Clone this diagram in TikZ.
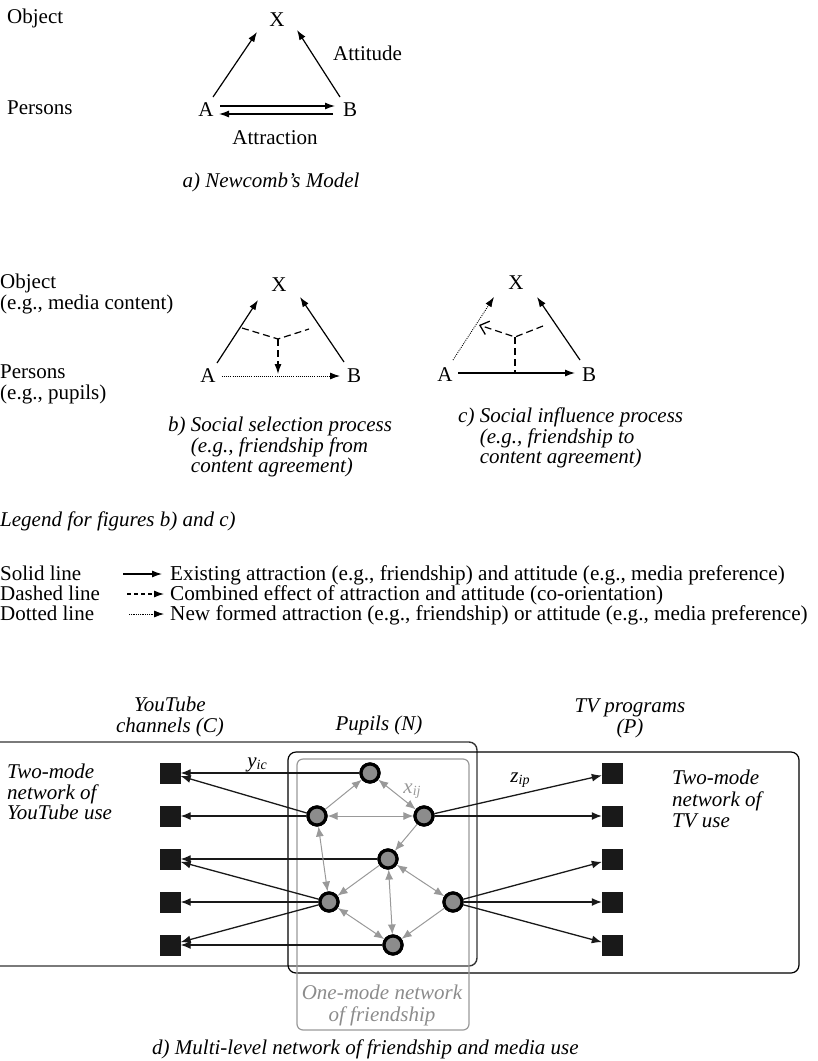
\documentclass[tikz,border=0pt]{standalone}
\usepackage{fontspec}
\setmainfont{Liberation Serif}
\usetikzlibrary{arrows.meta}
\begin{document}
\begin{tikzpicture}[x=1pt,y=-1pt,
  txt/.style={inner sep=0pt, font=\fontsize{21}{21}\selectfont},
  legtxt/.style={inner sep=0pt, font=\fontsize{21.2}{21}\selectfont, text height=13.5pt, text depth=4pt},
  itx/.style={inner sep=0pt, font=\fontsize{21}{20.5}\selectfont\itshape},
  arr/.style={line width=1.2pt,-{Latex[length=10pt,width=7pt]}},
  dsh/.style={line width=1.2pt,dash pattern=on 7pt off 4pt},
  dotl/.style={line width=0.9pt,dash pattern=on 0.9pt off 1.2pt},
  pupil/.style={circle,draw=black,line width=3.2pt,fill=black!45,minimum size=18pt,inner sep=0pt},
  medium/.style={rectangle,fill=black!90,minimum size=21pt,inner sep=0pt},
  garr/.style={draw=black!40,line width=1pt,-{Latex[length=10pt,width=8pt]}},
  gbiarr/.style={draw=black!40,line width=1pt,{Latex[length=10pt,width=8pt]}-{Latex[length=10pt,width=8pt]}},
  barr/.style={draw=black!90,line width=1.3pt,-{Latex[length=10pt,width=8pt]}},
]
\useasboundingbox (0,0) rectangle (818,1061);

% ---------------- a) Newcomb's model
\node[txt,anchor=base west] (objA) at (7,23) {Object};
\node[txt,anchor=base west] (perA) at (7,114) {Persons};
\node[txt] (Xa) at (277,20) {X};
\node[txt] (Aa) at (206,110) {A};
\node[txt] (Ba) at (350,110) {B};
\node[txt,anchor=base west] (att) at (333,60) {Attitude};
\node[txt] (attr) at (275,138) {Attraction};
\node[itx] (capa) at (271,182) {a) Newcomb’s Model};
\draw[arr] ([shift={(7,-13)}]Aa.center) -- ([shift={(-20,12)}]Xa.center);
\draw[arr] ([shift={(-10,-13)}]Ba.center) -- ([shift={(20,10)}]Xa.center);
\draw[arr] ([shift={(14,-4)}]Aa.center) -- ([shift={(-15,-4)}]Ba.center);
\draw[arr] ([shift={(-17,4)}]Ba.center) -- ([shift={(13,4)}]Aa.center);

% ---------------- b) social selection
\node[txt,anchor=north west,align=left] (objB) at (0,274) {Object\\(e.g., media content)};
\node[txt,anchor=north west,align=left] (perB) at (0,365) {Persons\\(e.g., pupils)};
\node[txt] (Xb) at (279,285) {X};
\node[txt] (Ab) at (208,376) {A};
\node[txt] (Bb) at (354,376) {B};
\draw[arr] ([shift={(9,-13)}]Ab.center) -- ([shift={(-21,15)}]Xb.center);
\draw[arr] ([shift={(-10,-14)}]Bb.center) -- ([shift={(21,12)}]Xb.center);
\draw[dotl,-{Latex[length=10pt,width=7pt]}] ([shift={(14,0)}]Ab.center) -- ([shift={(-14,0)}]Bb.center);
\coordinate (bL) at (242,328);
\coordinate (bJ) at (278,339);
\coordinate (bR) at (309,329);
\coordinate (bT) at (278,374);
\draw[dsh] (bL) -- (bJ) -- (bR);
\draw[dsh,-{Latex[length=10pt,width=7pt]}] (bJ) -- (bT);
\node[itx,anchor=north west,align=left] (capb) at (168,417)
  {b) Social selection process\\\hphantom{b) }(e.g., friendship from\\\hphantom{b) }content agreement)};

% ---------------- c) social influence
\node[txt] (Xc) at (516,283) {X};
\node[txt] (Ac) at (445,375) {A};
\node[txt] (Bc) at (589,375) {B};
\draw[dotl,-{Latex[length=10pt,width=7pt]}] ([shift={(8,-15)}]Ac.center) -- ([shift={(-22,14)}]Xc.center);
\draw[arr] ([shift={(-9,-15)}]Bc.center) -- ([shift={(21,14)}]Xc.center);
\draw[arr] ([shift={(13,-2)}]Ac.center) -- ([shift={(-14,-2)}]Bc.center);
\coordinate (cR) at (543,326);
\coordinate (cJ) at (515,337);
\coordinate (cL) at (479,325);
\coordinate (cB) at (515,372);
\draw[dsh,-{Straight Barb[length=8pt,width=14pt,line width=1.3pt]}] (cR) -- (cJ) -- (cL);
\draw[dsh] (cJ) -- (cB);
\node[itx,anchor=north west,align=left] (capc) at (458,408)
  {c) Social influence process\\\hphantom{c) }(e.g., friendship to\\\hphantom{c) }content agreement)};

% ---------------- legend
\node[itx,anchor=base west] (leg) at (0,526) {Legend for figures b) and c)};
\node[legtxt,font=\fontsize{21}{21}\selectfont,anchor=base west] (l1) at (0,580) {Solid line};
\node[legtxt,font=\fontsize{21}{21}\selectfont,anchor=base west] (l2) at (0,600) {Dashed line};
\node[legtxt,font=\fontsize{21}{21}\selectfont,anchor=base west] (l3) at (0,620) {Dotted line};
\coordinate (s1a) at (123,574); \coordinate (s1b) at (162,574);
\coordinate (s2a) at (127,594); \coordinate (s2b) at (164,594);
\coordinate (s3a) at (129,614); \coordinate (s3b) at (164,614);
\draw[line width=1.1pt,-{Latex[length=10pt,width=7pt]}] (s1a) -- (s1b);
\draw[line width=1.1pt,dash pattern=on 4pt off 3pt,-{Latex[length=10pt,width=7pt]}] (s2a) -- (s2b);
\draw[line width=0.8pt,dash pattern=on 0.8pt off 1pt,-{Latex[length=10pt,width=7pt]}] (s3a) -- (s3b);
\node[legtxt,anchor=base west] (t1) at (170,580) {Existing attraction (e.g., friendship) and attitude (e.g., media preference)};
\node[legtxt,anchor=base west] (t2) at (170,600) {Combined effect of attraction and attitude (co-orientation)};
\node[legtxt,anchor=base west] (t3) at (170,620) {New formed attraction (e.g., friendship) or attitude (e.g., media preference)};

% ---------------- d) multi-level network
\draw[black!80,line width=1.4pt,rounded corners=8pt] (-30,742) rectangle (477,966);
\draw[black,line width=1.2pt,rounded corners=8pt] (288,752) rectangle (799,973);
\draw[black!40,line width=1.2pt,rounded corners=6pt] (297,759) rectangle (469,1030);

\node[itx,align=center,anchor=north] (ytl) at (170,697) {YouTube\\channels (C)};
\node[itx] (pup) at (379,725) {Pupils (N)};
\node[itx,align=center,anchor=north] (tvl) at (630,699) {TV programs\\(P)};
\node[itx,align=left,anchor=north west] (ytu) at (7,764) {Two-mode\\network of\\YouTube use};
\node[itx,align=left,anchor=north west,font=\fontsize{21}{21.5}\selectfont\itshape] (tvu) at (672,770) {Two-mode\\network of\\TV use};
\node[itx,align=center,text=black!45,anchor=north,font=\fontsize{21}{22}\selectfont\itshape] (onem) at (382,985) {One-mode network\\of friendship};
\node[itx,anchor=base west] (capd) at (152,1054) {d) Multi-level network of friendship and media use};

% media squares
\foreach \i/\yy in {1/773,2/816,3/859,4/902,5/945}{
  \node[medium] (L\i) at (170,\yy) {};
  \node[medium] (R\i) at (612.5,\yy) {};
}
% pupils
\node[pupil] (n1) at (370,773) {};
\node[pupil] (n2) at (317,816) {};
\node[pupil] (n3) at (424,816) {};
\node[pupil] (n4) at (388,859) {};
\node[pupil] (n5) at (329,902) {};
\node[pupil] (n6) at (453,902) {};
\node[pupil] (n7) at (393,945) {};

% media-use ties
\draw[barr] (n1) -- (L1);
\draw[barr] (n2) -- (L1);
\draw[barr] (n2) -- (L2);
\draw[barr] (n4) -- (L3);
\draw[barr] (n5) -- (L3);
\draw[barr] (n5) -- (L4);
\draw[barr] (n5) -- (L5);
\draw[barr] (n7) -- (L5);
\draw[barr] (n3) -- (R1);
\draw[barr] (n3) -- (R2);
\draw[barr] (n6) -- (R3);
\draw[barr] (n6) -- (R4);
\draw[barr] (n6) -- (R5);

% friendship ties
\draw[garr] (n2) -- (n1);
\draw[gbiarr] (n1) -- (n3);
\draw[gbiarr] (n2) -- (n3);
\draw[garr] (n3) -- (n4);
\draw[gbiarr] (n2) -- (n5);
\draw[garr] (n4) -- (n5);
\draw[gbiarr] (n4) -- (n6);
\draw[gbiarr] (n4) -- (n7);
\draw[gbiarr] (n5) -- (n7);
\draw[garr] (n6) -- (n7);

% redraw pupils on top
\foreach \n in {n1,n2,n3,n4,n5,n6,n7}{
  \node[pupil] at (\n) {};
}

% tie labels
\node[txt] (yic) at (257,765) {\itshape y\raisebox{-2pt}{\fontsize{14}{14}\selectfont\itshape ic}};
\node[txt,text=black!40] (xij) at (412,791) {\itshape x\raisebox{-2pt}{\fontsize{14}{14}\selectfont\itshape ij}};
\node[txt] (zip) at (520,780) {\itshape z\raisebox{-2pt}{\fontsize{14}{14}\selectfont\itshape ip}};
\end{tikzpicture}
\end{document}
